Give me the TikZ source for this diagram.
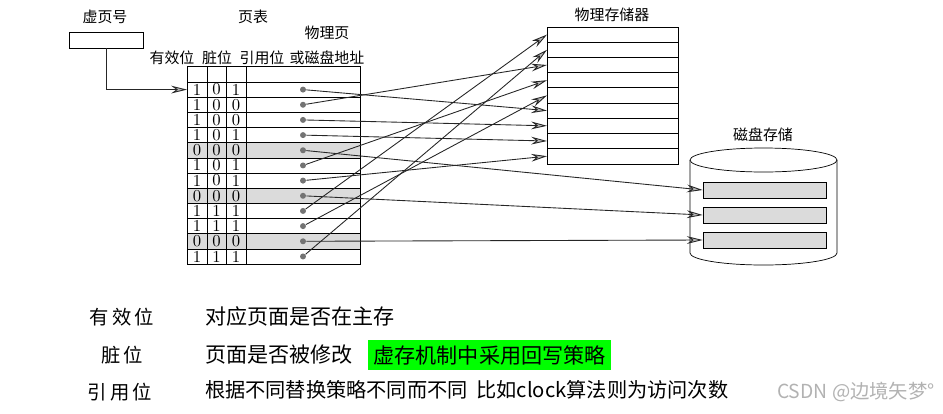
\documentclass[tikz,border=0pt]{standalone}
\usepackage{fontspec}
\newfontfamily\cjk{Noto Sans CJK SC}
\usetikzlibrary{arrows.meta}
\definecolor{shadegray}{gray}{0.86}
\definecolor{dotgray}{gray}{0.45}
\definecolor{markgreen}{rgb}{0,1,0}

\begin{document}
\begin{tikzpicture}[x=0.02cm, y=-0.02cm,
  every node/.style={font=\cjk\fontsize{8.5}{10}\selectfont, inner sep=1pt},
  bit/.style={font=\rmfamily\fontsize{9.5}{10}\selectfont},
  dot/.style={circle, fill=dotgray, inner sep=0pt, minimum size=0.12cm},
  ptr/.style={draw=black!85, line width=0.5pt, -{Stealth[length=9pt, width=4.4pt, inset=3pt, fill=gray!55]}},
  diskblk/.style={draw, fill=shadegray, minimum width=2.46cm, minimum height=0.32cm},
  desc/.style={font=\cjk\fontsize{12}{14}\selectfont, anchor=west}]
  \useasboundingbox (0,0) rectangle (943,413);

  % Virtual page number
  \node (vpnlabel) at (105,17) {虚页号};
  \node[draw, minimum width=1.48cm, minimum height=0.32cm] (vpn) at (106,40) {};

  % Page table headings
  \node (ptlabel) at (253,17) {页表};
  \node (hframe) at (327,33) {物理页};
  \node (hdisk) at (327,58) {或磁盘地址};
  \node (hvalid) at (172,58) {有效位};
  \node (hdirty) at (217,58) {脏位};
  \node (href) at (262,58) {引用位};

  % Page table
  \foreach \r in {5,8,11}
    \fill[shadegray] (187,{82+15.17*(\r-1)}) rectangle (360,{82+15.17*\r});
  \draw (187,66) rectangle (360,264);
  \foreach \x in {207,226,246}
    \draw (\x,66) -- (\x,264);
  \foreach \i in {0,...,11}
    \draw (187,{82+15.17*\i}) -- (360,{82+15.17*\i});
  \foreach \a/\b/\c [count=\r] in {1/0/1,1/0/0,1/0/0,1/0/1,0/0/0,1/0/1,1/0/1,0/0/0,1/1/1,1/1/1,0/0/0,1/1/1} {
    \pgfmathsetmacro\ry{82+15.17*(\r-0.5)}
    \node[bit] (va\r) at (197,\ry) {\a};
    \node[bit] (dt\r) at (216.5,\ry) {\b};
    \node[bit] (rf\r) at (236,\ry) {\c};
    \node[dot] (p\r) at (303,\ry) {};
  }
  \coordinate (tblin) at (187,89.6);
  \draw[ptr] (vpn.south) |- (tblin);

  % Physical memory
  \node (memlabel) at (612,15) {物理存储器};
  \draw (547,27) rectangle (678,164);
  \foreach \i in {1,...,8}
    \draw (547,{27+15.2*\i}) -- (678,{27+15.2*\i});
  \foreach \i in {1,...,9}
    \coordinate (f\i) at (547,{27+15.2*(\i-0.5)});

  % Disk storage
  \node (disklabel) at (763,135) {磁盘存储};
  \draw[fill=white] (690,160) -- (690,253) arc[start angle=180, end angle=0, x radius=73.5, y radius=12] -- (837,160);
  \draw[fill=white] (763.5,160) ellipse [x radius=73.5, y radius=12];
  \node[diskblk] (d1) at (764.5,190) {};
  \node[diskblk] (d2) at (764.5,215) {};
  \node[diskblk] (d3) at (764.5,240) {};

  % Pointers
  \foreach \s/\t in {1/6,2/3,3/7,4/8,6/4,7/9,9/1,10/5,12/2}
    \draw[ptr] (p\s) -- (f\t);
  \foreach \s/\t in {5/1,8/2,11/3}
    \draw[ptr] (p\s) -- (d\t.west);

  % Notes
  \node[font=\cjk\fontsize{11}{13}\selectfont] (nvalid) at (122,317) {有\,效\,位};
  \node[font=\cjk\fontsize{11}{13}\selectfont] (ndirty) at (122,355) {脏\,位};
  \node[font=\cjk\fontsize{11}{13}\selectfont] (nref) at (120,392) {引\,用\,位};
  \node[desc] (tvalid) at (203,316) {对应页面是否在主存};
  \node[desc] (tdirty) at (203,355) {页面是否被修改};
  \node[desc, fill=markgreen, inner sep=3pt] (tback) at (368,355) {虚存机制中采用回写策略};
  \node[desc, font=\cjk\fontsize{11.5}{14}\selectfont] (tref) at (203,390) {根据不同替换策略不同而不同\hspace{5pt}比如clock算法则为访问次数};
  \node[font=\cjk\fontsize{11}{13}\selectfont, text=gray!60, anchor=west] (mark) at (775,392) {CSDN @边境矢梦°};
\end{tikzpicture}
\end{document}
